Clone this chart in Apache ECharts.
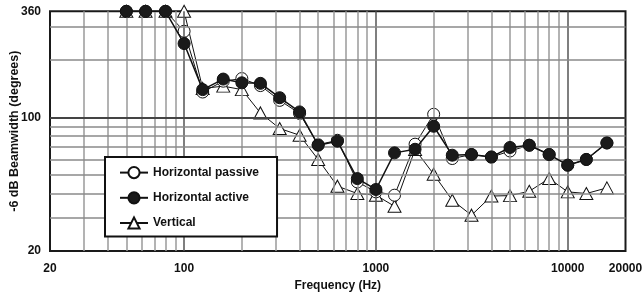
<!DOCTYPE html>
<html><head><meta charset="utf-8">
<script src="https://cdn.jsdelivr.net/npm/echarts@6/dist/echarts.min.js"></script>
<style>html,body{margin:0;padding:0;background:#fff}#c{width:642px;height:296px}</style>
</head><body><div id="c"></div>
<script>
const freqs = [50,63,80,100,125,160,200,250,315,400,500,630,800,1000,1250,1600,2000,2500,3150,4000,5000,6300,8000,10000,12500,16000];
const passive = [360,360,360,283,136,155,160,147,123,105,72,76,46,40.8,39.2,72.5,104,61,64,62,66.8,71.6,64,56.3,60.3,73.6];
const active = [360,360,360,244,140,159,152,151,127,107,71.6,75.2,47.9,42,65.3,68.2,90,63.5,64,62.2,69.7,71.6,64,56.3,60.3,73.6];
const vertical = [360,360,360,360,142,146,140,105.7,87.6,80.8,60.3,43.7,40,39.2,34.3,68,50.5,36.9,30.8,38.8,39,41.1,47.9,40.8,40,42.8];
const xMinorGrid = [30,40,50,60,70,80,90,200,300,400,500,600,700,800,900,2000,3000,4000,5000,6000,7000,8000,9000];
const xMajorGrid = [100,1000,10000];
const yMinorGrid = [30,40,50,60,70,80,90,200,300];
const yMajorGrid = [100];
const names = ['Horizontal passive','Horizontal active','Vertical'];

const font = '"Liberation Sans", Arial, sans-serif';
const pairs = arr => freqs.map((f,i)=>[f,arr[i]]);
const gridLines = [].concat(
  xMinorGrid.map(v=>({xAxis:v,lineStyle:{color:'#9a9a9a',width:1.5,type:'solid'}})),
  xMajorGrid.map(v=>({xAxis:v,lineStyle:{color:'#555',width:1.5,type:'solid'}})),
  yMinorGrid.map(v=>({yAxis:v,lineStyle:{color:'#8a8a8a',width:1.5,type:'solid'}})),
  yMajorGrid.map(v=>({yAxis:v,lineStyle:{color:'#444',width:2,type:'solid'}}))
);
const chart = echarts.init(document.getElementById('c'), null, {renderer:'canvas'});
chart.setOption({
  animation:false,
  textStyle:{fontFamily:font},
  grid:{left:50,right:16.5,top:11.3,bottom:45,containLabel:false,outerBoundsMode:'none',
    show:true,borderColor:'#1a1a1a',borderWidth:2,backgroundColor:'#fff',z:0},
  xAxis:{type:'log',logBase:10,min:20,max:20000,
    name:'Frequency (Hz)',nameLocation:'middle',nameGap:29,nameMoveOverlap:false,
    nameTextStyle:{fontFamily:font,fontWeight:'bold',fontSize:12,color:'#111'},
    axisLine:{show:false},axisTick:{show:false},splitLine:{show:false},minorSplitLine:{show:false},
    axisLabel:{fontFamily:font,fontWeight:'bold',fontSize:12,color:'#111',margin:12,showMinLabel:true,showMaxLabel:true,
      formatter:v=>String(Math.round(v))}},
  yAxis:{type:'log',logBase:10,min:20,max:360,
    name:'-6 dB Beamwidth (degrees)',nameLocation:'middle',nameGap:29,nameMoveOverlap:false,
    nameTextStyle:{fontFamily:font,fontWeight:'bold',fontSize:12.5,color:'#111'},
    axisLine:{show:false},axisTick:{show:false},splitLine:{show:false},
    axisLabel:{fontFamily:font,fontWeight:'bold',fontSize:12,color:'#111',margin:9,showMinLabel:true,showMaxLabel:true,
      formatter:v=>String(Math.round(v))}},
  legend:{orient:'vertical',left:105,top:157,data:names,z:100,zlevel:1,
    backgroundColor:'#fff',borderColor:'#111',borderWidth:2,borderRadius:0,
    padding:[9,18,7,14],itemGap:12,itemWidth:28,itemHeight:14,
    textStyle:{fontFamily:font,fontWeight:'bold',fontSize:12,color:'#111'}},
  series:[
    {type:'line',name:'__grid',data:[],silent:true,z:1,
      markLine:{silent:true,symbol:['none','none'],label:{show:false},animation:false,data:gridLines}},
    {type:'line',name:names[2],data:pairs(vertical),z:3,symbol:'triangle',symbolSize:[13,12],
      lineStyle:{color:'#111',width:1},itemStyle:{color:'#fff',borderColor:'#111',borderWidth:1}},
    {type:'line',name:names[0],data:pairs(passive),z:4,symbol:'circle',symbolSize:12,
      lineStyle:{color:'#111',width:1},itemStyle:{color:'#fff',borderColor:'#111',borderWidth:1}},
    {type:'line',name:names[1],data:pairs(active),z:5,symbol:'circle',symbolSize:12,
      lineStyle:{color:'#111',width:1.5},itemStyle:{color:'#1a1a1a',borderColor:'#111',borderWidth:1}}
  ]
});
</script></body></html>
